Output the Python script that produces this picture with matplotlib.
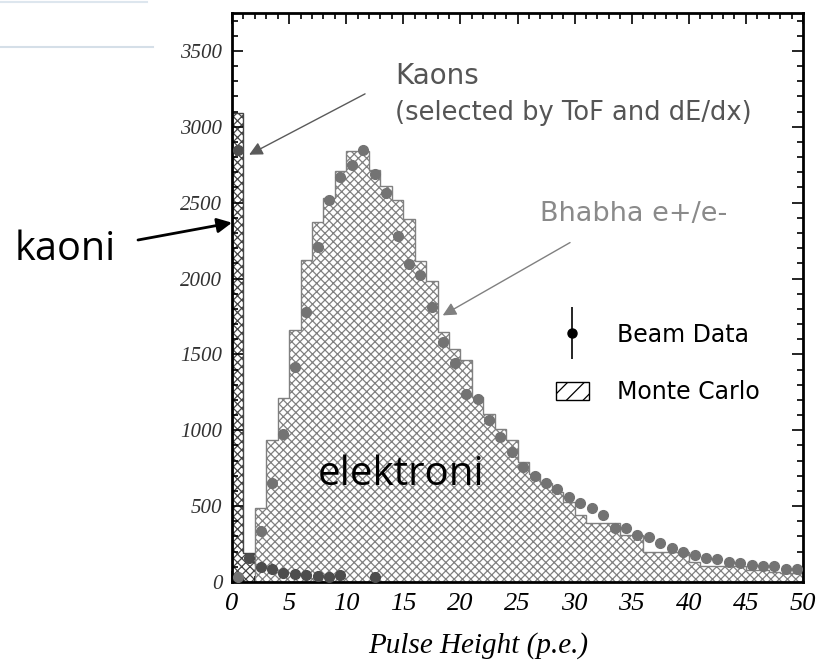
import numpy as np
import matplotlib
matplotlib.use('Agg')
import matplotlib.pyplot as plt
from matplotlib.patches import Patch
from matplotlib.lines import Line2D
from matplotlib.legend_handler import HandlerErrorbar
from matplotlib.ticker import MultipleLocator

# binning: 50 bins of 1 p.e.
bin_edges = np.arange(0, 51)
bin_centers = bin_edges[:-1] + 0.5

# Monte Carlo, Bhabha electrons (counts per bin)
mc_electrons = [0, 0, 485, 934, 1210, 1658, 2123, 2370, 2530, 2711,
                2838, 2840, 2715, 2612, 2520, 2393, 2118, 1987, 1645, 1537,
                1461, 1219, 1110, 1011, 934, 790, 715, 650, 590, 530,
                441, 386, 386, 386, 309, 309, 200, 200, 200, 200,
                134, 105, 105, 105, 105, 79, 79, 68, 57, 57]

# Monte Carlo, kaons
mc_kaons = [3090, 190, 110, 80, 60, 50, 42, 36, 30, 25,
            12, 10, 8, 6, 5, 4, 3, 3, 2, 2,
            2, 1, 1, 1, 1, 0, 0, 0, 0, 0,
            0, 0, 0, 0, 0, 0, 0, 0, 0, 0,
            0, 0, 0, 0, 0, 0, 0, 0, 0, 0]

# beam data, electrons
data_electrons = [30, np.nan, 338, 653, 975, 1415, 1780, 2210, 2518, 2671,
                  2750, 2847, 2689, 2561, 2283, 2099, 2020, 1811, 1581, 1443,
                  1241, 1208, 1066, 956, 857, 755, 700, 653, 610, 557,
                  518, 485, 441, 357, 353, 309, 294, 255, 222, 200,
                  178, 156, 149, 134, 123, 112, 107, 107, 84, 84]

# beam data, kaons
kaon_centers = [0.5, 1.5, 2.5, 3.5, 4.5, 5.5, 6.5, 7.5, 8.5, 9.5, 12.5]
data_kaons = [2847, 158, 101, 84, 61, 53, 46, 39, 35, 46, 31]

plt.rcParams['hatch.linewidth'] = 0.9

fig = plt.figure(figsize=(8.18, 6.61), dpi=100)
ax = fig.add_axes([232 / 818, 1 - 582 / 661, 571 / 818, 569 / 661])

ax.stairs(mc_kaons, bin_edges, fill=True, facecolor='white', edgecolor='#454545',
          hatch='xxxx', linewidth=1.0, zorder=1)
ax.stairs(mc_electrons, bin_edges, fill=True, facecolor='white', edgecolor='#808080',
          hatch='xxxx', linewidth=1.0, zorder=2)

ax.plot(bin_centers, data_electrons, 'o', color='#737373', ms=7, zorder=3)
ax.plot(kaon_centers, data_kaons, 'o', color='#4d4d4d', ms=7, zorder=4)

# annotations
arrow_gray = dict(arrowstyle='-|>', color='#5a5a5a', lw=1.0, mutation_scale=20,
                  shrinkA=0, shrinkB=0)
ax.annotate('', xy=(1.5, 2816), xytext=(11.65, 3217), arrowprops=arrow_gray)
ax.annotate('', xy=(18.45, 1757), xytext=(29.6, 2237),
            arrowprops=dict(arrow_gray, color='#808080'))
ax.text(14.3, 3336, 'Kaons', fontsize=20, color='#555555', va='center')
ax.text(14.3, 3092, '(selected by ToF and dE/dx)', fontsize=18.5, color='#555555', va='center')
ax.text(27.0, 2428, 'Bhabha e+/e-', fontsize=19.5, color='#8a8a8a', va='center')
ax.text(7.53, 638, 'elektroni', fontsize=29, family='Open Sans', va='baseline', color='black')

fig.text(15 / 818, 1 - 260 / 661, 'kaoni', fontsize=28.5, family='Open Sans', va='baseline')
ax.annotate('', xy=(0, 2368), xycoords='data', xytext=(138 / 818, 1 - 240 / 661),
            textcoords='figure fraction', annotation_clip=False,
            arrowprops=dict(arrowstyle='-|>', color='black', lw=2, mutation_scale=22,
                            shrinkA=0, shrinkB=0))

# legend
beam = ax.errorbar([np.nan], [np.nan], yerr=[1], fmt='o', color='black', ms=6.5, lw=1.2)
mc_patch = Patch(facecolor='white', edgecolor='black', hatch='//', lw=1)
ax.legend([beam, mc_patch], ['Beam Data', 'Monte Carlo'], loc='center left',
          bbox_to_anchor=(0.567, 0.384), frameon=False, fontsize=17,
          handlelength=1.4, handleheight=0.8, handletextpad=1.2, labelspacing=1.4,
          borderpad=0, borderaxespad=0,
          handler_map={type(beam): HandlerErrorbar(yerr_size=1.1)})

# axes styling
ax.set_xlim(0, 50)
ax.set_ylim(0, 3750)
ax.xaxis.set_major_locator(MultipleLocator(5))
ax.xaxis.set_minor_locator(MultipleLocator(1))
ax.yaxis.set_major_locator(MultipleLocator(500))
ax.yaxis.set_minor_locator(MultipleLocator(100))
ax.tick_params(which='both', direction='in', top=True, right=True, width=1.2)
ax.tick_params(which='major', length=8)
ax.tick_params(which='minor', length=4)
ax.tick_params(axis='x', labelsize=19, pad=8)
ax.tick_params(axis='y', labelsize=15, pad=7, labelcolor='#333333')
for lab in ax.get_xticklabels() + ax.get_yticklabels():
    lab.set_family('Liberation Serif')
    lab.set_fontstyle('italic')
for sp in ax.spines.values():
    sp.set_linewidth(2)

ax.set_xlabel('Pulse Height (p.e.)', fontsize=21, family='Liberation Serif',
              fontstyle='italic', va='baseline')
ax.xaxis.set_label_coords(0.431, -0.125)

# slide decoration lines at top-left
fig.add_artist(Line2D([0, 147 / 818], [1 - 2 / 661] * 2, color='#dde6ee', lw=1.5))
fig.add_artist(Line2D([0, 153 / 818], [1 - 47 / 661] * 2, color='#d5dfe8', lw=1.5))

fig.savefig('out.png', dpi=100)
